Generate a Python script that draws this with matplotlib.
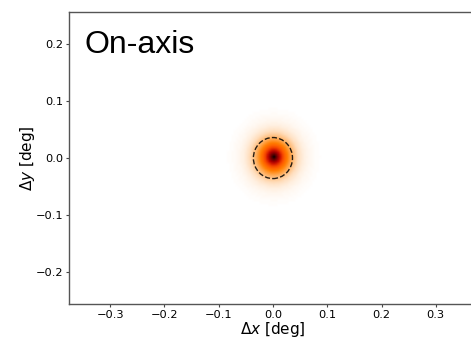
import numpy as np
import matplotlib
matplotlib.use("Agg")
import matplotlib.pyplot as plt
from matplotlib.patches import Circle

# radial PSF profile (offset in deg -> relative intensity)
psf_radius = [0.0, 0.005, 0.01, 0.015, 0.02, 0.025, 0.03, 0.036, 0.045, 0.055, 0.065, 0.08, 0.1]
psf_level = [1.0, 0.74, 0.52, 0.39, 0.31, 0.25, 0.19, 0.13, 0.065, 0.032, 0.016, 0.005, 0.0]

containment_radius = 0.036  # deg
x_ticks = [-0.3, -0.2, -0.1, 0.0, 0.1, 0.2, 0.3]
y_ticks = [-0.2, -0.1, 0.0, 0.1, 0.2]
label = "On-axis"

# pixel grid for the image
xlim = (-0.3757, 0.3757)
ylim = (-0.256, 0.256)
pix = 0.004
xc = np.arange(xlim[0], xlim[1], pix)
yc = np.arange(ylim[0], ylim[1], pix)
X, Y = np.meshgrid(xc, yc)
R = np.hypot(X, Y)
img = np.interp(R, psf_radius, psf_level)

fig = plt.figure(figsize=(4.71, 3.41), dpi=100)
ax = fig.add_axes([0.1465, 0.1085, 0.866, 0.856])
ax.imshow(img, origin="lower", cmap="gist_heat_r", vmin=0, vmax=1,
          extent=[xlim[0], xlim[1], ylim[0], ylim[1]], aspect="auto",
          interpolation="bilinear")
ax.add_patch(Circle((0, 0), containment_radius, fill=False, ls="--",
                    lw=1.0, color="black", alpha=0.85))

ax.set_xlim(*xlim)
ax.set_ylim(*ylim)
ax.set_xticks(x_ticks)
ax.set_yticks(y_ticks)
ax.tick_params(labelsize=8.2, length=2.5, width=0.8, pad=1.5, color="#444444")
for s in ax.spines.values():
    s.set_color("#555555")
    s.set_linewidth(1.0)

ax.set_xlabel(r"$\Delta x$ [deg]", fontsize=11, labelpad=0)
ax.set_ylabel(r"$\Delta y$ [deg]", fontsize=11, labelpad=-1)
ax.text(0.039, 0.86, label, transform=ax.transAxes, fontsize=23,
        family="Liberation Sans", va="baseline", ha="left")

fig.savefig("out.png", dpi=100)
